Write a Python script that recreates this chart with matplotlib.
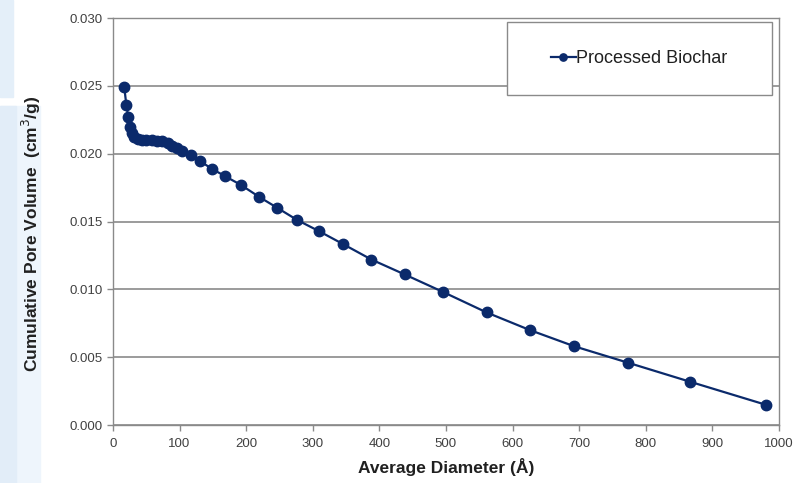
import numpy as np
import matplotlib.pyplot as plt
from matplotlib.patches import Rectangle

# Pore size distribution
diameter = [17, 20, 23, 25.5, 28, 32, 37, 43, 50, 58, 66, 74, 82, 89, 96, 104,
            117, 131, 148, 168, 192, 220, 247, 277, 309, 345, 388, 438, 496,
            561, 626, 693, 773, 866, 980]
pore_volume = [0.0249, 0.0236, 0.0227, 0.0220, 0.0215, 0.0212, 0.0211, 0.0210,
               0.0210, 0.0210, 0.0209, 0.0209, 0.0208, 0.0206, 0.0204, 0.0202,
               0.0199, 0.01945, 0.0189, 0.01835, 0.0177, 0.0168, 0.0160, 0.0151,
               0.0143, 0.01335, 0.0122, 0.0111, 0.0098, 0.0083, 0.0070, 0.0058,
               0.0046, 0.0032, 0.0015]
series_name = 'Processed Biochar'

x_ticks = np.arange(0, 1001, 100)
y_ticks = [0.000, 0.005, 0.010, 0.015, 0.020, 0.025, 0.030]

plt.rcParams['font.family'] = ['Liberation Sans', 'DejaVu Sans']

navy = '#0b2a6b'
gray = '#8a8a8a'
label_col = '#404040'

fig = plt.figure(figsize=(8.03, 4.83), dpi=100)

# faint light-blue background shapes on the left edge
fig.patches.append(Rectangle((0, 0.80), 0.016, 0.20, transform=fig.transFigure,
                             color='#e4eff9', zorder=-5))
fig.patches.append(Rectangle((0, 0.0), 0.05, 0.78, transform=fig.transFigure,
                             color='#eef5fc', zorder=-5))
fig.patches.append(Rectangle((0, 0.0), 0.02, 0.78, transform=fig.transFigure,
                             color='#e2edf8', zorder=-4))

ax = fig.add_axes([0.1407, 0.120, 0.8293, 0.8427])

ax.plot(diameter, pore_volume, '-o', color=navy, lw=1.6, markersize=7.5,
        label=series_name, zorder=3)

ax.set_xlim(0, 1000)
ax.set_ylim(0, 0.030)
ax.set_xticks(x_ticks)
ax.set_yticks(y_ticks)
ax.set_yticklabels([f'{v:.3f}' for v in y_ticks])

ax.yaxis.grid(True, color=gray, lw=1.2)
ax.set_axisbelow(True)
for s in ax.spines.values():
    s.set_color(gray)
    s.set_linewidth(1.0)
ax.tick_params(axis='both', colors=gray, labelcolor=label_col, labelsize=9.5,
               length=4, width=1.0, direction='out')
ax.tick_params(axis='x', pad=5)

ax.set_xlabel('Average Diameter (Å)', fontsize=12.5, fontweight='bold',
              color='#202020', labelpad=6)
ax.set_ylabel('Cumulative Pore Volume  (cm$^{3}$/g)', fontsize=12.5,
              fontweight='bold', color='#202020')
ax.yaxis.set_label_coords(-0.105, 0.47)

# legend box
box = Rectangle((0.592, 0.811), 0.397, 0.179, transform=ax.transAxes,
                facecolor='white', edgecolor=gray, lw=1.0, zorder=4)
ax.add_patch(box)
leg = ax.legend(loc='center', bbox_to_anchor=(0.7905, 0.9), frameon=False,
                fontsize=13, handlelength=1.35, handletextpad=0.05,
                markerscale=0.7)
leg.set_zorder(5)
for t in leg.get_texts():
    t.set_color('#202020')

fig.savefig('out.png', dpi=100)
